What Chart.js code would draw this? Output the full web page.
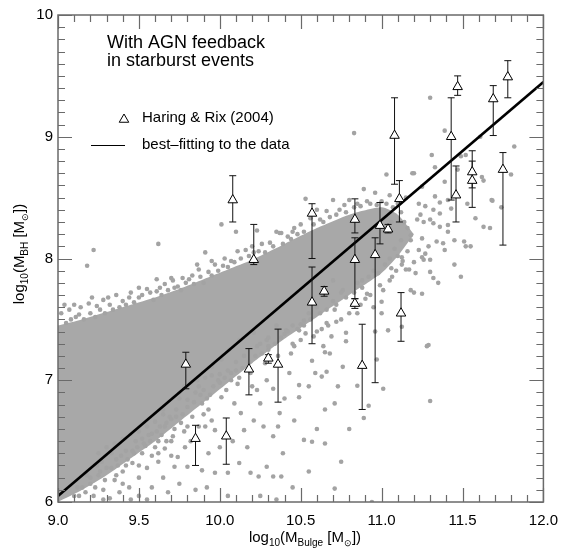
<!DOCTYPE html>
<html>
<head>
<meta charset="utf-8">
<script src="https://cdn.jsdelivr.net/npm/chart.js@4.4.1/dist/chart.umd.min.js"></script>
<style>
html,body{margin:0;padding:0;background:#fff;}
#c{display:block;}
</style>
</head>
<body>
<canvas id="c" width="568" height="551"></canvas>
<script>
// ---------- DATA ----------
const xTickLabels = ['9.0','9.5','10.0','10.5','11.0','11.5','12.0'];
const yTickLabels = ['6','7','8','9','10'];

// Haring & Rix (2004) points: x, y, lower and upper error-bar ends
const hrX  = [9.79, 9.85, 10.04, 10.08, 10.18, 10.21, 10.30, 10.36, 10.57, 10.57, 10.645, 10.835, 10.835, 10.835, 10.88, 10.96, 10.99, 11.04, 11.08, 11.11, 11.12, 11.43, 11.46, 11.47, 11.56, 11.56, 11.69, 11.75, 11.78];
const hrY  = [7.13, 6.52, 6.54, 8.48, 7.09, 7.99, 7.18, 7.13, 8.37, 7.64, 7.73, 8.32, 7.99, 7.63, 7.12, 8.03, 8.27, 8.24, 9.01, 8.49, 7.55, 9.00, 8.52, 9.41, 8.71, 8.64, 9.31, 8.73, 9.49];
const hrLo = [6.93, 6.30, 6.31, 8.30, 6.88, 7.95, 7.14, 6.82, 8.00, 7.30, 7.69, 8.21, 7.67, 7.59, 6.76, 6.98, 8.12, 8.21, 8.61, 8.30, 7.32, 8.48, 8.30, 9.34, 8.58, 8.42, 9.01, 8.11, 9.32];
const hrHi = [7.23, 6.63, 6.69, 8.68, 7.26, 8.28, 7.21, 7.42, 8.45, 7.93, 7.77, 8.49, 8.17, 7.67, 7.46, 8.17, 8.46, 8.28, 9.32, 8.64, 7.72, 9.32, 8.76, 9.50, 8.885, 8.80, 9.42, 8.87, 9.625];

// best-fitting line
const fitX = [9.0, 12.0];
const fitY = [6.05, 9.45];

// dense core of the simulated galaxy cloud (upper / lower envelope)
const coreX     = [9.0, 9.15, 9.3, 9.45, 9.6, 9.75, 9.9, 10.05, 10.2, 10.4, 10.6, 10.8, 11.0, 11.1, 11.2];
const coreUpper = [7.45, 7.5, 7.56, 7.62, 7.68, 7.75, 7.83, 7.91, 7.99, 8.12, 8.25, 8.36, 8.42, 8.36, 8.2];
const coreLower = [6.0, 6.1, 6.22, 6.36, 6.5, 6.66, 6.82, 6.98, 7.14, 7.34, 7.52, 7.7, 7.88, 8.02, 8.2];

// individual simulated galaxies outside / around the core
const cloudPoints = [
 [9.13,7.54],[9.08,7.5],[9.05,7.47],[9.1,7.62],[9.2,7.55],[9.26,7.58],[9.32,7.62],[9.40,7.65],[9.36,7.7],[9.45,7.72],
 [9.5,7.68],[9.55,7.75],[9.61,7.73],[9.66,7.79],[9.72,7.76],[9.79,7.80],[9.83,7.86],[9.87,7.91],[9.93,7.89],[9.97,7.95],
 [10.03,8.0],[10.07,7.98],[10.11,8.06],[10.16,8.07],[10.21,8.05],[10.26,8.12],[10.31,8.13],[10.37,8.21],[10.42,8.18],[10.46,8.25],
 [10.35,8.22],[10.53,8.49],[10.56,8.33],[10.6,8.4],[10.66,8.39],[10.7,8.48],[10.74,8.40],[10.77,8.44],[10.80,8.48],[10.85,8.45],
 [10.89,8.57],[10.91,8.47],[10.96,8.54],[11.05,8.52],[11.0,8.47],[11.2,8.70],[11.25,8.59],[11.41,8.48],[11.36,8.46],[11.43,8.41],
 [11.53,8.45],[11.15,8.5],[11.1,8.45],[10.64,8.3],[10.5,8.28],[10.2,8.1],[9.95,7.98],[9.7,7.84],[9.5,7.76],[9.28,7.66],
 [9.22,8.07],[9.18,7.94],[9.21,7.68],[9.61,7.83],[9.62,8.12],[9.77,7.84],[9.91,8.05],[9.86,7.95],[10.01,8.28],[10.1,8.22],
 [10.23,8.23],[10.45,8.22],[10.38,8.21],[10.83,9.03],[11.30,9.32],[11.39,9.05],[11.61,9.0],[11.82,8.92],[11.31,8.85],[11.19,8.70],
 [11.03,8.69],[11.33,8.75],[11.49,8.84],[11.52,8.85],[11.47,8.73],[11.80,8.69],[11.68,8.48],[11.62,8.67],[11.63,8.64],[11.39,8.63],
 [11.33,8.51],[11.74,8.42],[11.58,8.33],[11.63,8.26],[11.67,8.25],[11.685,8.475],
 [11.45,7.95],[11.49,7.85],[11.35,7.80],[11.30,7.89],[11.32,7.84],[11.21,7.88],[11.26,7.99],[11.30,7.99],[11.27,8.04],[11.29,8.10],
 [11.25,8.165],[11.34,8.14],[11.38,8.125],[11.39,8.07],[11.45,8.15],[11.51,8.14],[11.52,8.10],[11.55,8.10],[11.41,8.22],[11.41,8.275],
 [11.36,8.26],[11.32,8.29],[11.26,8.30],[11.30,8.32],[11.22,8.32],[11.24,8.36],[11.36,8.37],[11.32,8.40],[11.27,8.43],[11.23,8.45],
 [11.29,7.29],[11.28,7.28],[11.30,6.83],[11.125,7.95],[11.17,7.91],[11.20,7.72],[11.18,7.74],[11.25,7.71],[11.25,8.01],[11.23,8.07],
 [11.18,8.19],[11.20,7.97],[11.125,8.01],[11.15,7.91],[11.065,7.85],[11.01,7.74],[11.0,7.645],[10.88,7.82],[10.91,7.71],[10.70,7.82],
 [10.76,7.74],[10.96,7.40],[11.04,7.41],[11.125,7.44],[10.85,7.55],[10.78,7.39],[10.66,7.47],[10.90,7.67],[10.71,7.58],[10.67,7.45],
 [10.52,7.49],[10.50,7.46],[10.49,7.41],[10.53,7.385],[10.69,7.36],[10.78,7.32],[10.64,7.28],[10.65,7.23],[10.68,7.22],[10.57,7.16],
 [10.59,7.06],[10.63,7.03],[10.66,7.07],[10.76,7.11],[10.73,6.95],[10.55,6.95],[10.49,6.96],[10.65,6.76],[10.71,6.81],[10.85,6.955],
 [10.92,6.79],[10.89,6.69],[10.97,7.17],[11.01,6.93],[10.57,6.495],[10.65,6.48],[10.75,6.33],[10.35,6.02],[10.38,6.21],[10.36,6.62],
 [10.94,6.0],[10.71,6.11],[11.0,7.55],[10.95,7.6],[10.82,7.62],[10.75,7.5],[10.6,7.4],[10.45,7.3],[10.4,7.38],[10.3,7.25],
 [9.69,6.70],[9.71,6.54],[9.74,6.37],[9.785,6.45],[9.76,6.65],[9.73,6.76],[9.80,6.84],[9.87,6.95],[9.89,6.81],[9.93,6.76],
 [9.95,6.67],[9.91,6.62],[9.97,6.59],[9.99,7.0],[10.01,6.86],[10.07,7.06],[10.11,6.97],[10.09,6.81],[10.13,6.73],[10.15,6.59],
 [10.12,6.32],[10.19,6.24],[10.21,6.67],[10.25,6.81],[10.27,6.62],[10.23,6.92],[10.29,7.0],[10.33,6.93],[10.43,7.06],[10.46,7.28],
 [10.41,7.41],[10.29,7.33],[10.23,7.28],[10.21,7.39],[10.12,7.33],[10.06,7.25],[10.01,7.17],[9.95,7.11],[9.91,7.02],[10.46,6.67],
 [10.39,6.40],[10.52,6.51],[10.49,6.86],[10.37,6.73],[10.33,6.54],[10.29,6.29],[10.33,6.21],[10.24,6.21],[10.05,6.24],[9.97,6.24],
 [9.89,6.26],[9.80,6.29],[9.72,6.29],[9.93,6.40],[9.83,6.70],[9.87,6.62],[10.0,6.45],[10.08,6.5],[10.17,6.45],[10.05,6.05],
 [9.85,6.1],[9.75,6.15],[9.92,6.12],[10.25,6.05],[10.45,6.12],[10.55,6.25],[10.2,6.95],[10.4,6.85],[10.6,6.6],[10.8,6.6],
 [9.20,6.15],[9.22,6.05],[9.25,6.22],[9.28,6.1],[9.3,6.28],[9.32,6.03],[9.35,6.18],[9.36,6.35],[9.38,6.08],[9.4,6.25],
 [9.42,6.42],[9.44,6.12],[9.46,6.32],[9.48,6.5],[9.5,6.2],[9.5,6.05],[9.52,6.4],[9.55,6.28],[9.56,6.55],[9.58,6.12],
 [9.6,6.45],[9.62,6.33],[9.63,6.62],[9.65,6.2],[9.67,6.5],[9.68,6.08],[9.7,6.38],[9.72,6.6],[9.55,6.02],[9.45,6.02],
 [9.33,6.4],[9.27,6.33],[9.24,6.3],[9.18,6.22],[9.15,6.12],[9.13,6.05],[9.3,6.45],[9.4,6.52],[9.5,6.58],[9.6,6.66],
 [9.65,6.72],[9.75,6.85],[9.78,6.95],[9.42,6.3],[9.47,6.4],[9.53,6.48],[9.58,6.56],[9.62,6.5],[9.66,6.62],[9.36,6.22],
 [9.85,6.9],[9.9,6.92],[10.0,7.05],[10.05,7.08],[10.1,7.15],[10.15,7.2],[10.25,7.3],[10.3,7.35],[10.35,7.45],[10.45,7.45],
 [10.55,7.55],[10.6,7.6],[10.7,7.65],[10.75,7.72],[10.85,7.8],[10.95,7.9],[11.05,8.0],[11.08,8.08],[9.82,6.98],[9.95,7.04],
 [9.02,7.55],[9.04,7.62],[9.07,7.58],[9.11,7.52],[9.14,7.6],[9.16,7.5],[9.19,7.63],[9.23,7.52],[9.24,7.61],[9.29,7.55],
 [9.31,7.68],[9.34,7.58],[9.38,7.6],[9.42,7.62],[9.44,7.68],[9.47,7.64],[9.52,7.7],[9.57,7.72],[9.59,7.66],[9.63,7.76],
 [9.64,7.7],[9.68,7.74],[9.71,7.82],[9.74,7.77],[9.76,7.74],[9.81,7.83],[9.84,7.79],[9.88,7.85],[9.9,7.8],[9.95,7.86],
 [9.99,7.9],[10.02,7.94],[10.05,7.93],[10.09,7.97],[10.13,8.0],[10.18,8.02],[10.24,8.06],[10.28,8.05],[10.33,8.1],[10.39,8.12],
 [10.44,8.16],[10.48,8.2],[10.52,8.22],[10.58,8.28],[10.62,8.32],[10.68,8.34],[10.72,8.36],[10.78,8.38],[10.83,8.42],[10.87,8.43],
 [10.93,8.45],[10.97,8.44],[11.03,8.45],[11.07,8.42],[11.12,8.38],[11.14,8.3],[11.16,8.25],[11.18,8.15],[11.12,8.15],[11.06,8.3],
 [9.1,6.05],[9.12,6.12],[9.17,6.08],[9.2,6.2],[9.23,6.12],[9.26,6.25],[9.29,6.18],[9.33,6.28],[9.37,6.3],[9.39,6.38],
 [9.43,6.35],[9.46,6.42],[9.49,6.45],[9.52,6.52],[9.54,6.46],[9.57,6.5],[9.61,6.58],[9.64,6.55],[9.67,6.65],[9.7,6.68],
 [9.73,6.7],[9.77,6.72],[9.8,6.78],[9.84,6.82],[9.88,6.88],[9.92,6.85],[9.96,6.95],[10.0,6.98],[10.03,7.02],[10.07,7.0],
 [10.1,7.08],[10.14,7.1],[10.18,7.15],[10.22,7.2],[10.26,7.22],[10.3,7.28],[10.34,7.3],[10.38,7.35],[10.42,7.4],[10.48,7.42],
 [10.52,7.45],[10.56,7.5],[10.62,7.55],[10.66,7.58],[10.72,7.62],[10.78,7.68],[10.83,7.72],[10.88,7.76],[10.92,7.85],[10.98,7.88],
 [11.02,7.95],[11.06,7.92],[11.1,8.02],[9.25,6.4],[9.35,6.48],[9.45,6.56],[9.55,6.62],[9.65,6.76],[9.75,6.9],[9.86,7.0],
 [9.58,6.38],[9.66,6.44],[9.78,6.58],[9.82,6.5],[9.94,6.88],[10.04,6.92],[10.12,7.02],[10.19,7.06],[10.28,7.14],[10.36,7.2],
 [10.44,7.22],[10.5,7.33],[10.58,7.36],[10.63,7.42],[10.72,7.48],[10.8,7.55],[10.87,7.62],[10.93,7.7],[10.99,7.78],[11.05,7.82],
 [11.09,7.9],[11.13,7.98],[11.16,8.06],[9.28,6.02],[9.4,6.15],[9.5,6.3],[9.62,6.4],[9.7,6.5],[9.8,6.62],[9.9,6.72]
];

// ---------- CHART ----------
const FONT = '"Liberation Sans", Arial, Helvetica, sans-serif';
const GRAY = '#a3a3a3';
const AXIS = '#6a6a6a';

const errData = [];
hrX.forEach((x, i) => {
  errData.push({x: x, y: hrLo[i]}, {x: x, y: hrHi[i]}, {x: x, y: null});
});

const framePlugin = {
  id: 'frameTicks',
  afterDatasetsDraw(chart) {
    const {ctx, chartArea: a, scales: {x, y}} = chart;
    ctx.save();
    ctx.strokeStyle = AXIS;
    ctx.lineWidth = 1.5;
    ctx.strokeRect(a.left, a.top, a.right - a.left, a.bottom - a.top);
    ctx.lineWidth = 1.2;
    ctx.beginPath();
    for (let i = 0; i <= 30; i++) {
      const v = 9 + i * 0.1;
      const px = Math.round(x.getPixelForValue(v)) + 0.5;
      const len = (i % 5 === 0) ? 14 : 7;
      ctx.moveTo(px, a.bottom); ctx.lineTo(px, a.bottom - len);
      ctx.moveTo(px, a.top); ctx.lineTo(px, a.top + len);
    }
    for (let i = 0; i <= 40; i++) {
      const v = 6 + i * 0.1;
      const py = Math.round(y.getPixelForValue(v)) + 0.5;
      const len = (i % 10 === 0) ? 14 : 7;
      ctx.moveTo(a.left, py); ctx.lineTo(a.left + len, py);
      ctx.moveTo(a.right, py); ctx.lineTo(a.right - len, py);
    }
    ctx.stroke();
    ctx.restore();
  },
  afterDraw(chart) {
    const ctx = chart.ctx;
    ctx.save();
    ctx.fillStyle = '#000';
    ctx.textBaseline = 'alphabetic';
    // annotation
    ctx.font = '18px ' + FONT;
    ctx.fillText('With AGN feedback', 107, 48);
    ctx.fillText('in starburst events', 107, 66);
    // legend
    ctx.font = '15px ' + FONT;
    ctx.fillText('Haring & Rix (2004)', 142, 122);
    ctx.fillText('best\u2013fitting to the data', 142, 149);
    ctx.strokeStyle = '#000';
    ctx.fillStyle = '#fff';
    ctx.lineWidth = 1;
    Chart.helpers.drawPoint(ctx, {pointStyle: 'triangle', radius: 5.5, rotation: 0, borderWidth: 1}, 124, 119.5);
    ctx.beginPath();
    ctx.moveTo(91, 145.5); ctx.lineTo(125, 145.5);
    ctx.stroke();
    ctx.fillStyle = '#000';
    // axis titles
    const parts = (sub) => [
      ['log', 15, 0], ['10', 10, 4], ['(M', 15, 0], [sub, 10, 4], [' [M', 15, 0], ['\u2299', 9, 4], ['])', 15, 0]
    ];
    function drawRich(segs, cx, baseY) {
      let w = 0;
      segs.forEach(s => { ctx.font = s[1] + 'px ' + FONT; w += ctx.measureText(s[0]).width; });
      let xx = cx - w / 2;
      segs.forEach(s => {
        ctx.font = s[1] + 'px ' + FONT;
        ctx.fillText(s[0], xx, baseY + s[2]);
        xx += ctx.measureText(s[0]).width;
      });
    }
    drawRich(parts('Bulge'), 305, 542);
    ctx.translate(24, 254);
    ctx.rotate(-Math.PI / 2);
    drawRich(parts('BH'), 0, 0);
    ctx.restore();
  }
};

new Chart(document.getElementById('c'), {
  type: 'scatter',
  data: {
    datasets: [
      { label: 'core-upper', data: coreX.map((x, i) => ({x: x, y: coreUpper[i]})), showLine: true,
        borderWidth: 0, pointRadius: 0, fill: false, order: 10, tension: 0.2 },
      { label: 'core-lower', data: coreX.map((x, i) => ({x: x, y: coreLower[i]})), showLine: true,
        borderWidth: 0, pointRadius: 0, fill: '-1', backgroundColor: '#a8a8a8', order: 9, tension: 0.2 },
      { label: 'simulated', data: cloudPoints.map(p => ({x: p[0], y: p[1]})),
        pointRadius: 2.3, pointBorderWidth: 0, backgroundColor: GRAY, borderColor: GRAY, order: 8 },
      { label: 'fit', data: fitX.map((x, i) => ({x: x, y: fitY[i]})), showLine: true,
        borderColor: '#000', borderWidth: 2.6, pointRadius: 0, order: 3 },
      { label: 'errors', data: errData, showLine: true, spanGaps: false, borderColor: '#111', borderWidth: 1,
        pointStyle: 'line', pointRadius: 3.5, pointBorderWidth: 1, pointBorderColor: '#111', order: 2 },
      { label: 'Haring & Rix (2004)', data: hrX.map((x, i) => ({x: x, y: hrY[i]})),
        pointStyle: 'triangle', pointRadius: 5.5, pointBorderWidth: 1, borderColor: '#000', backgroundColor: '#fff', order: 1 }
    ]
  },
  options: {
    responsive: false,
    animation: false,
    devicePixelRatio: 1,
    layout: { padding: { left: 0, right: 18, top: 15, bottom: 0 } },
    plugins: { legend: { display: false }, tooltip: { enabled: false } },
    scales: {
      x: {
        type: 'linear', min: 9, max: 12,
        afterFit: s => { s.height = 49; },
        grid: { display: false, drawTicks: false },
        border: { display: false },
        afterBuildTicks: s => { s.ticks = xTickLabels.map(t => ({value: parseFloat(t)})); },
        ticks: { padding: 10, color: '#000', font: { size: 15, family: FONT }, maxRotation: 0, autoSkip: false,
                 callback: (v) => xTickLabels.find(t => parseFloat(t) === v) }
      },
      y: {
        type: 'linear', min: 6, max: 10,
        afterFit: s => { s.width = 58; },
        grid: { display: false, drawTicks: false },
        border: { display: false },
        afterBuildTicks: s => { s.ticks = yTickLabels.map(t => ({value: parseFloat(t)})); },
        ticks: { padding: 5, color: '#000', font: { size: 15, family: FONT },
                 callback: (v) => yTickLabels.find(t => parseFloat(t) === v) }
      }
    }
  },
  plugins: [framePlugin]
});
</script>
</body>
</html>
